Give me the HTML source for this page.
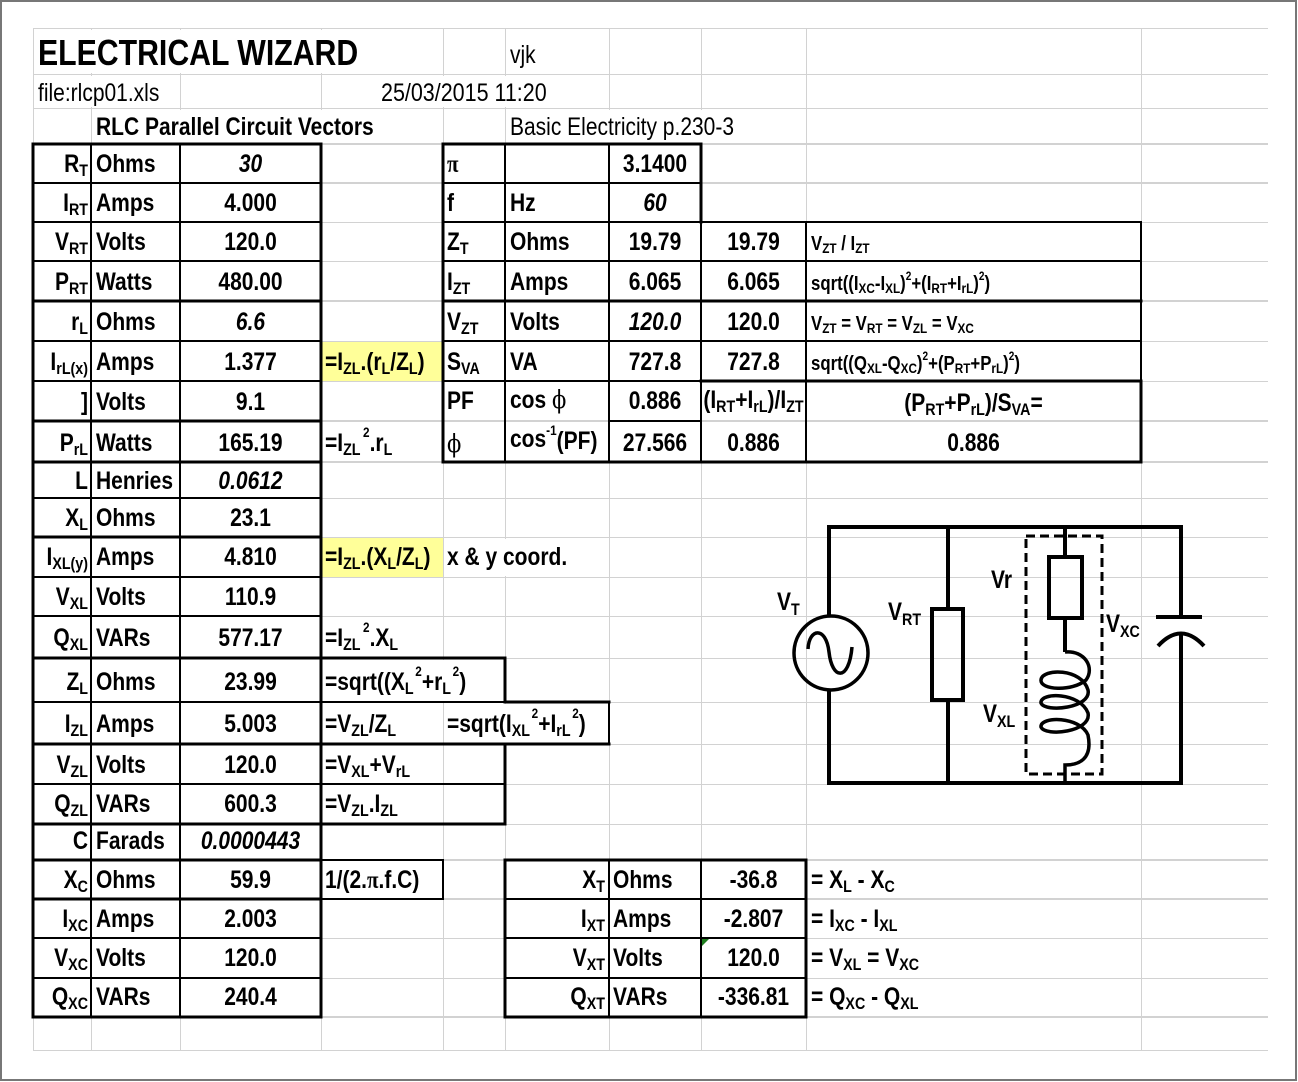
<!DOCTYPE html>
<html><head><meta charset="utf-8"><style>
html,body{margin:0;padding:0;background:#fff;}
svg{display:block}
text{font-family:"Liberation Sans",Arial,sans-serif;font-weight:bold;font-size:25px;fill:#000}
.n{font-weight:normal}
.i{font-style:italic}
.s{font-size:17px}
.p{font-size:14px}
.f{font-size:20px}
.fs{font-size:14px}
.fp{font-size:12px}
.sf{font-family:"Liberation Serif","DejaVu Serif",serif}
.ph{font-family:"DejaVu Serif","Liberation Serif",serif;font-weight:normal}
.e{text-anchor:end}
.m{text-anchor:middle}
.t{font-size:36px}
</style></head><body>
<svg width="1298" height="1082" viewBox="0 0 1298 1082" xmlns="http://www.w3.org/2000/svg">
<rect x="0" y="0" width="1298" height="1082" fill="#fff"/>
<!-- gridlines -->
<path shape-rendering="crispEdges" stroke="#d2d2d2" stroke-width="1" fill="none" d="
M33 28.5H1268 M33 74.5H1268 M33 108.5H1268 M33 144.5H1268 M33 183.5H1268 M33 222.5H1268 M33 261.5H1268 M33 301.5H1268
M33 341.5H1268 M33 381.5H1268 M33 421.5H1268 M33 462.5H1268 M33 498.5H1268 M33 537.5H1268 M33 577.5H1268 M33 616.5H1268
M33 658.5H1268 M33 702.5H1268 M33 744.5H1268 M33 784.5H1268 M33 824.5H1268 M33 860.5H1268 M33 899.5H1268 M33 938.5H1268
M33 978.5H1268 M33 1017.5H1268 M33 1050.5H1268
M33.5 28V1050 M91.5 28V1050 M180.5 28V1050 M321.5 28V1050 M443.5 28V1050 M505.5 28V1050 M609.5 28V1050 M701.5 28V1050
M806.5 28V1050 M1141.5 28V1050"/>
<path shape-rendering="crispEdges" stroke="#d2d2d2" stroke-width="2" fill="none" d="
M33 144H1268 M33 183H1268 M33 301H1268 M33 421H1268 M33 462H1268 M33 860H1268 M33 899H1268 M33 1017H1268"/>
<!-- overflow whiteouts -->
<g fill="#fff">
<rect x="35" y="30" width="407" height="43"/>
<rect x="35" y="76" width="144" height="31"/>
<rect x="323" y="76" width="285" height="31"/>
<rect x="93" y="110" width="349" height="33"/>
<rect x="507" y="110" width="298" height="33"/>
<rect x="445" y="539" width="163" height="37"/>
<rect x="323" y="660" width="181" height="41"/>
<rect x="445" y="704" width="163" height="39"/>
</g>
<!-- yellow cells -->
<rect x="322" y="342" width="121" height="39" fill="#ffff99"/>
<rect x="322" y="538" width="121" height="39" fill="#ffff99"/>
<!-- outer frame -->
<rect x="1" y="1" width="1295" height="1079" fill="none" stroke="#777" stroke-width="2"/>
<!-- black borders thick -->
<path fill="none" stroke="#000" stroke-width="3" stroke-linecap="square" d="
M33 144V1017 M321 144V1017 M33 144H321 M33 1017H321
M33 301H321 M33 421H321 M33 462H321 M33 537H321 M33 658H321 M33 744H321 M33 824H321 M33 860H321 M33 899H321
M443 144V462 M701 144V222 M443 144H701 M443 301H1141 M443 462H1141 M701 381H1141 M1141 381V462
M321 658H505 M505 658V702 M505 702H609 M321 744H609 M505 744V824 M321 824H505
M505 860H806 M505 1017H806 M505 860V1017 M806 860V1017"/>
<!-- black borders thin -->
<path fill="none" stroke="#000" stroke-width="2" stroke-linecap="square" d="
M91 144V1017 M180 144V1017
M33 183H321 M33 222H321 M33 261H321 M33 341H321 M33 381H321 M33 498H321 M33 577H321 M33 616H321 M33 702H321 M33 784H321 M33 938H321 M33 978H321
M505 144V462 M609 144V462 M701 222V462 M806 222V462 M1141 222V381
M443 183H701 M443 222H1141 M443 261H1141 M443 341H1141 M443 381H701 M609 421H701
M321 702H505 M321 784H505 M609 702V744
M321 860H443 M443 860V899 M321 899H443
M609 860V1017 M701 860V1017 M505 899H806 M505 938H806 M505 978H806"/>
<path d="M702 939H709L702 946Z" fill="#1e7d1e"/>

<!-- header -->
<text class="t" transform="translate(38 65) scale(.84 1)">ELECTRICAL WIZARD</text>
<text class="n" transform="translate(510 63) scale(.84 1)">vjk</text>
<text class="n" transform="translate(38 101) scale(.84 1)">file:rlcp01.xls</text>
<text class="n" transform="translate(381 101) scale(.86 1)">25/03/2015 11:20</text>
<text transform="translate(96 135) scale(.84 1)">RLC Parallel Circuit Vectors</text>
<text class="n" transform="translate(510 135) scale(.84 1)">Basic Electricity p.230-3</text>

<!-- left labels -->
<text class="e" transform="translate(88 172) scale(.84 1)">R<tspan class="s" dy="4">T</tspan></text>
<text class="e" transform="translate(88 211) scale(.84 1)">I<tspan class="s" dy="4">RT</tspan></text>
<text class="e" transform="translate(88 250) scale(.84 1)">V<tspan class="s" dy="4">RT</tspan></text>
<text class="e" transform="translate(88 290) scale(.84 1)">P<tspan class="s" dy="4">RT</tspan></text>
<text class="e" transform="translate(88 330) scale(.84 1)">r<tspan class="s" dy="4">L</tspan></text>
<text class="e" transform="translate(88 370) scale(.84 1)">I<tspan class="s" dy="4">rL(x)</tspan></text>
<text class="e" transform="translate(88 410) scale(.84 1)">]</text>
<text class="e" transform="translate(88 451) scale(.84 1)">P<tspan class="s" dy="4">rL</tspan></text>
<text class="e" transform="translate(88 489) scale(.84 1)">L</text>
<text class="e" transform="translate(88 526) scale(.84 1)">X<tspan class="s" dy="4">L</tspan></text>
<text class="e" transform="translate(88 565) scale(.84 1)">I<tspan class="s" dy="4">XL(y)</tspan></text>
<text class="e" transform="translate(88 605) scale(.84 1)">V<tspan class="s" dy="4">XL</tspan></text>
<text class="e" transform="translate(88 646) scale(.84 1)">Q<tspan class="s" dy="4">XL</tspan></text>
<text class="e" transform="translate(88 690) scale(.84 1)">Z<tspan class="s" dy="4">L</tspan></text>
<text class="e" transform="translate(88 732) scale(.84 1)">I<tspan class="s" dy="4">ZL</tspan></text>
<text class="e" transform="translate(88 773) scale(.84 1)">V<tspan class="s" dy="4">ZL</tspan></text>
<text class="e" transform="translate(88 812) scale(.84 1)">Q<tspan class="s" dy="4">ZL</tspan></text>
<text class="e" transform="translate(88 849) scale(.84 1)">C</text>
<text class="e" transform="translate(88 888) scale(.84 1)">X<tspan class="s" dy="4">C</tspan></text>
<text class="e" transform="translate(88 927) scale(.84 1)">I<tspan class="s" dy="4">XC</tspan></text>
<text class="e" transform="translate(88 966) scale(.84 1)">V<tspan class="s" dy="4">XC</tspan></text>
<text class="e" transform="translate(88 1005) scale(.84 1)">Q<tspan class="s" dy="4">XC</tspan></text>

<!-- left units -->
<text transform="translate(96 172) scale(.84 1)">Ohms</text>
<text transform="translate(96 211) scale(.84 1)">Amps</text>
<text transform="translate(96 250) scale(.84 1)">Volts</text>
<text transform="translate(96 290) scale(.84 1)">Watts</text>
<text transform="translate(96 330) scale(.84 1)">Ohms</text>
<text transform="translate(96 370) scale(.84 1)">Amps</text>
<text transform="translate(96 410) scale(.84 1)">Volts</text>
<text transform="translate(96 451) scale(.84 1)">Watts</text>
<text transform="translate(96 489) scale(.84 1)">Henries</text>
<text transform="translate(96 526) scale(.84 1)">Ohms</text>
<text transform="translate(96 565) scale(.84 1)">Amps</text>
<text transform="translate(96 605) scale(.84 1)">Volts</text>
<text transform="translate(96 646) scale(.84 1)">VARs</text>
<text transform="translate(96 690) scale(.84 1)">Ohms</text>
<text transform="translate(96 732) scale(.84 1)">Amps</text>
<text transform="translate(96 773) scale(.84 1)">Volts</text>
<text transform="translate(96 812) scale(.84 1)">VARs</text>
<text transform="translate(96 849) scale(.84 1)">Farads</text>
<text transform="translate(96 888) scale(.84 1)">Ohms</text>
<text transform="translate(96 927) scale(.84 1)">Amps</text>
<text transform="translate(96 966) scale(.84 1)">Volts</text>
<text transform="translate(96 1005) scale(.84 1)">VARs</text>

<!-- left values -->
<text class="m i" transform="translate(250.5 172) scale(.84 1)">30</text>
<text class="m" transform="translate(250.5 211) scale(.84 1)">4.000</text>
<text class="m" transform="translate(250.5 250) scale(.84 1)">120.0</text>
<text class="m" transform="translate(250.5 290) scale(.84 1)">480.00</text>
<text class="m i" transform="translate(250.5 330) scale(.84 1)">6.6</text>
<text class="m" transform="translate(250.5 370) scale(.84 1)">1.377</text>
<text class="m" transform="translate(250.5 410) scale(.84 1)">9.1</text>
<text class="m" transform="translate(250.5 451) scale(.84 1)">165.19</text>
<text class="m i" transform="translate(250.5 489) scale(.84 1)">0.0612</text>
<text class="m" transform="translate(250.5 526) scale(.84 1)">23.1</text>
<text class="m" transform="translate(250.5 565) scale(.84 1)">4.810</text>
<text class="m" transform="translate(250.5 605) scale(.84 1)">110.9</text>
<text class="m" transform="translate(250.5 646) scale(.84 1)">577.17</text>
<text class="m" transform="translate(250.5 690) scale(.84 1)">23.99</text>
<text class="m" transform="translate(250.5 732) scale(.84 1)">5.003</text>
<text class="m" transform="translate(250.5 773) scale(.84 1)">120.0</text>
<text class="m" transform="translate(250.5 812) scale(.84 1)">600.3</text>
<text class="m i" transform="translate(250.5 849) scale(.84 1)">0.0000443</text>
<text class="m" transform="translate(250.5 888) scale(.84 1)">59.9</text>
<text class="m" transform="translate(250.5 927) scale(.84 1)">2.003</text>
<text class="m" transform="translate(250.5 966) scale(.84 1)">120.0</text>
<text class="m" transform="translate(250.5 1005) scale(.84 1)">240.4</text>

<!-- left formulas -->
<text transform="translate(325 370) scale(.84 1)">=I<tspan class="s" dy="4">ZL</tspan><tspan dy="-4">.(r</tspan><tspan class="s" dy="4">L</tspan><tspan dy="-4">/Z</tspan><tspan class="s" dy="4">L</tspan><tspan dy="-4">)</tspan></text>
<text transform="translate(325 451) scale(.84 1)">=I<tspan class="s" dy="4">ZL</tspan><tspan class="p" dx="3" dy="-18">2</tspan><tspan dy="14">.r</tspan><tspan class="s" dy="4">L</tspan></text>
<text transform="translate(325 565) scale(.84 1)">=I<tspan class="s" dy="4">ZL</tspan><tspan dy="-4">.(X</tspan><tspan class="s" dy="4">L</tspan><tspan dy="-4">/Z</tspan><tspan class="s" dy="4">L</tspan><tspan dy="-4">)</tspan></text>
<text transform="translate(447 565) scale(.84 1)">x &amp; y coord.</text>
<text transform="translate(325 646) scale(.84 1)">=I<tspan class="s" dy="4">ZL</tspan><tspan class="p" dx="3" dy="-18">2</tspan><tspan dy="14">.X</tspan><tspan class="s" dy="4">L</tspan></text>
<text transform="translate(325 690) scale(.84 1)">=sqrt((X<tspan class="s" dy="4">L</tspan><tspan class="p" dx="2" dy="-18">2</tspan><tspan dy="14">+r</tspan><tspan class="s" dy="4">L</tspan><tspan class="p" dx="2" dy="-18">2</tspan><tspan dy="14">)</tspan></text>
<text transform="translate(325 732) scale(.84 1)">=V<tspan class="s" dy="4">ZL</tspan><tspan dy="-4">/Z</tspan><tspan class="s" dy="4">L</tspan></text>
<text transform="translate(447 732) scale(.84 1)">=sqrt(I<tspan class="s" dy="4">XL</tspan><tspan class="p" dx="2" dy="-18">2</tspan><tspan dy="14">+I</tspan><tspan class="s" dy="4">rL</tspan><tspan class="p" dx="2" dy="-18">2</tspan><tspan dy="14">)</tspan></text>
<text transform="translate(325 773) scale(.84 1)">=V<tspan class="s" dy="4">XL</tspan><tspan dy="-4">+V</tspan><tspan class="s" dy="4">rL</tspan></text>
<text transform="translate(325 812) scale(.84 1)">=V<tspan class="s" dy="4">ZL</tspan><tspan dy="-4">.I</tspan><tspan class="s" dy="4">ZL</tspan></text>
<text transform="translate(325 888) scale(.84 1)">1/(2.<tspan class="sf">π</tspan>.f.C)</text>

<!-- right top table -->
<text class="sf" transform="translate(447 172) scale(.84 1)">π</text>
<text class="m" transform="translate(655 172) scale(.84 1)">3.1400</text>
<text transform="translate(447 211) scale(.84 1)">f</text>
<text transform="translate(510 211) scale(.84 1)">Hz</text>
<text class="m i" transform="translate(655 211) scale(.84 1)">60</text>

<text transform="translate(447 250) scale(.84 1)">Z<tspan class="s" dy="4">T</tspan></text>
<text transform="translate(510 250) scale(.84 1)">Ohms</text>
<text class="m" transform="translate(655 250) scale(.84 1)">19.79</text>
<text class="m" transform="translate(753.5 250) scale(.84 1)">19.79</text>
<text class="f" transform="translate(811 250) scale(.84 1)">V<tspan class="fs" dy="3">ZT</tspan><tspan dy="-3"> / I</tspan><tspan class="fs" dy="3">ZT</tspan></text>

<text transform="translate(447 290) scale(.84 1)">I<tspan class="s" dy="4">ZT</tspan></text>
<text transform="translate(510 290) scale(.84 1)">Amps</text>
<text class="m" transform="translate(655 290) scale(.84 1)">6.065</text>
<text class="m" transform="translate(753.5 290) scale(.84 1)">6.065</text>
<text class="f" transform="translate(811 290) scale(.84 1)">sqrt((I<tspan class="fs" dy="3">XC</tspan><tspan dy="-3">-I</tspan><tspan class="fs" dy="3">XL</tspan><tspan dy="-3">)</tspan><tspan class="fp" dy="-10">2</tspan><tspan dy="10">+(I</tspan><tspan class="fs" dy="3">RT</tspan><tspan dy="-3">+I</tspan><tspan class="fs" dy="3">rL</tspan><tspan dy="-3">)</tspan><tspan class="fp" dy="-10">2</tspan><tspan dy="10">)</tspan></text>

<text transform="translate(447 330) scale(.84 1)">V<tspan class="s" dy="4">ZT</tspan></text>
<text transform="translate(510 330) scale(.84 1)">Volts</text>
<text class="m i" transform="translate(655 330) scale(.84 1)">120.0</text>
<text class="m" transform="translate(753.5 330) scale(.84 1)">120.0</text>
<text class="f" transform="translate(811 330) scale(.84 1)">V<tspan class="fs" dy="3">ZT</tspan><tspan dy="-3"> = V</tspan><tspan class="fs" dy="3">RT</tspan><tspan dy="-3"> = V</tspan><tspan class="fs" dy="3">ZL</tspan><tspan dy="-3"> = V</tspan><tspan class="fs" dy="3">XC</tspan></text>

<text transform="translate(447 370) scale(.84 1)">S<tspan class="s" dy="4">VA</tspan></text>
<text transform="translate(510 370) scale(.84 1)">VA</text>
<text class="m" transform="translate(655 370) scale(.84 1)">727.8</text>
<text class="m" transform="translate(753.5 370) scale(.84 1)">727.8</text>
<text class="f" transform="translate(811 370) scale(.84 1)">sqrt((Q<tspan class="fs" dy="3">XL</tspan><tspan dy="-3">-Q</tspan><tspan class="fs" dy="3">XC</tspan><tspan dy="-3">)</tspan><tspan class="fp" dy="-10">2</tspan><tspan dy="10">+(P</tspan><tspan class="fs" dy="3">RT</tspan><tspan dy="-3">+P</tspan><tspan class="fs" dy="3">rL</tspan><tspan dy="-3">)</tspan><tspan class="fp" dy="-10">2</tspan><tspan dy="10">)</tspan></text>

<text transform="translate(447 409) scale(.84 1)">PF</text>
<text transform="translate(510 408) scale(.84 1)">cos <tspan class="ph">ϕ</tspan></text>
<text class="m" transform="translate(655 409) scale(.84 1)">0.886</text>
<text class="m" transform="translate(753.5 408) scale(.84 1)">(I<tspan class="s" dy="4">RT</tspan><tspan dy="-4">+I</tspan><tspan class="s" dy="4">rL</tspan><tspan dy="-4">)/I</tspan><tspan class="s" dy="4">ZT</tspan></text>
<text class="m" transform="translate(973.5 411) scale(.84 1)">(P<tspan class="s" dy="4">RT</tspan><tspan dy="-4">+P</tspan><tspan class="s" dy="4">rL</tspan><tspan dy="-4">)/S</tspan><tspan class="s" dy="4">VA</tspan><tspan dy="-4">=</tspan></text>

<text class="ph" transform="translate(447 452) scale(.84 1)">ϕ</text>
<text transform="translate(510 447) scale(.84 1)">cos<tspan class="p" dy="-12">-1</tspan><tspan dy="14">(PF)</tspan></text>
<text class="m" transform="translate(655 451) scale(.84 1)">27.566</text>
<text class="m" transform="translate(753.5 451) scale(.84 1)">0.886</text>
<text class="m" transform="translate(973.5 451) scale(.84 1)">0.886</text>

<!-- right bottom table -->
<text class="e" transform="translate(605 888) scale(.84 1)">X<tspan class="s" dy="4">T</tspan></text>
<text class="e" transform="translate(605 927) scale(.84 1)">I<tspan class="s" dy="4">XT</tspan></text>
<text class="e" transform="translate(605 966) scale(.84 1)">V<tspan class="s" dy="4">XT</tspan></text>
<text class="e" transform="translate(605 1005) scale(.84 1)">Q<tspan class="s" dy="4">XT</tspan></text>
<text transform="translate(613 888) scale(.84 1)">Ohms</text>
<text transform="translate(613 927) scale(.84 1)">Amps</text>
<text transform="translate(613 966) scale(.84 1)">Volts</text>
<text transform="translate(613 1005) scale(.84 1)">VARs</text>
<text class="m" transform="translate(753.5 888) scale(.84 1)">-36.8</text>
<text class="m" transform="translate(753.5 927) scale(.84 1)">-2.807</text>
<text class="m" transform="translate(753.5 966) scale(.84 1)">120.0</text>
<text class="m" transform="translate(753.5 1005) scale(.84 1)">-336.81</text>
<text transform="translate(811 888) scale(.84 1)">= X<tspan class="s" dy="4">L</tspan><tspan dy="-4"> - X</tspan><tspan class="s" dy="4">C</tspan></text>
<text transform="translate(811 927) scale(.84 1)">= I<tspan class="s" dy="4">XC</tspan><tspan dy="-4"> - I</tspan><tspan class="s" dy="4">XL</tspan></text>
<text transform="translate(811 966) scale(.84 1)">= V<tspan class="s" dy="4">XL</tspan><tspan dy="-4"> = V</tspan><tspan class="s" dy="4">XC</tspan></text>
<text transform="translate(811 1005) scale(.84 1)">= Q<tspan class="s" dy="4">XC</tspan><tspan dy="-4"> - Q</tspan><tspan class="s" dy="4">XL</tspan></text>

<!-- circuit -->
<g fill="none" stroke="#000" stroke-width="4">
<path d="M829 616V527H1181V617 M1156 617H1202 M829 690V783H1181V633 M948 527V609 M948 700V783 M1065 527V557 M1065 618V652"/>
<rect x="932" y="609" width="31" height="91"/>
<rect x="1049" y="557" width="33" height="61"/>
<circle cx="831" cy="653" r="37" stroke-width="3.5"/>
<path d="M1158 646 Q1181 621 1204 646"/>
<path stroke-width="3.5" d="M808 649 C809 628 826 626 829 652 C832 680 849 682 852 647"/>
<path stroke-width="3.5" d="M1065 652 C1085 650 1095 668 1086 680 C1072 692 1040 690 1041 680 C1042 668 1082 668 1088 690 C1092 708 1045 713 1041 703 C1040 692 1080 692 1088 713 C1092 732 1045 737 1041 727 C1040 716 1080 716 1088 735 C1093 760 1078 765 1065 765 L1065 783"/>
<rect x="1026" y="536" width="76" height="238" stroke-width="3" stroke-dasharray="9 5"/>
</g>
<text transform="translate(777 610) scale(.84 1)">V<tspan class="s" dy="5">T</tspan></text>
<text transform="translate(888 620) scale(.84 1)">V<tspan class="s" dy="5">RT</tspan></text>
<text transform="translate(991 588) scale(.84 1)">Vr</text>
<text transform="translate(1106 632) scale(.84 1)">V<tspan class="s" dy="5">XC</tspan></text>
<text transform="translate(983 722) scale(.84 1)">V<tspan class="s" dy="5">XL</tspan></text>
</svg>
</body></html>
